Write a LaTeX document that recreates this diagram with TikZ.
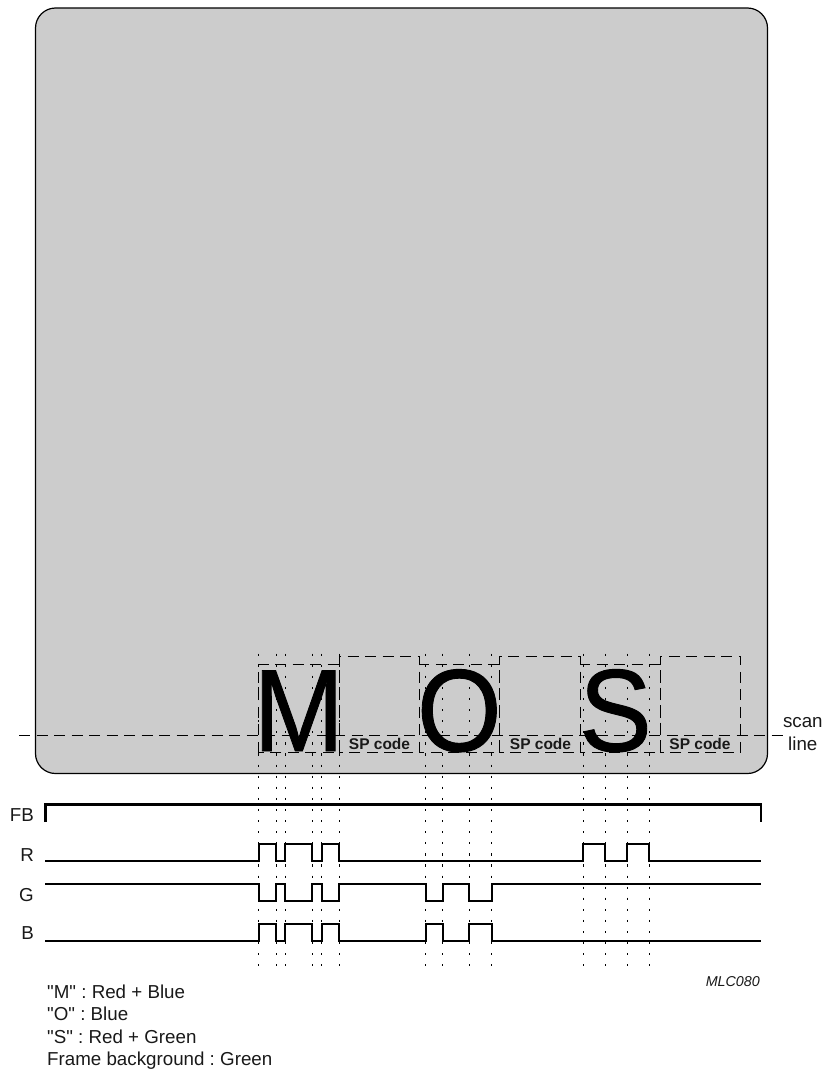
\documentclass[tikz,border=0pt]{standalone}
\usepackage{fontspec}
\setmainfont{Liberation Sans}
\newfontfamily\plainf{Liberation Sans}
\newfontfamily\heavyf[FakeBold=0.8]{Liberation Sans}
\frenchspacing
\tikzset{
  panel/.style={draw=black,line width=1.2pt,fill=black!20,rounded corners=20pt},
  dashbox/.style={draw=black,line width=0.8pt,dash pattern=on 11pt off 6.5pt},
  scanline/.style={draw=black,line width=0.8pt,dash pattern=on 11pt off 6.5pt},
  dotline/.style={draw=black,line width=0.8pt,dash pattern=on 2.2pt off 8.9pt},
  signal/.style={draw=black,line width=2.2pt,line join=miter},
  lbl/.style={inner sep=0pt,font=\fontsize{18.75}{18.75}\selectfont\plainf,text=black!90},
  bigletter/.style={inner sep=0pt,anchor=base,xscale=0.93,transform shape,font=\fontsize{117}{117}\selectfont\heavyf},
  spcode/.style={inner sep=0pt,anchor=base,font=\fontsize{15.5}{15.5}\selectfont\bfseries,text=black!90}
}
\begin{document}
\begin{tikzpicture}[x=1pt,y=-1pt]
\useasboundingbox (0,0) rectangle (824,1074);
\path[panel] (35.5,8) rectangle (767.5,773.5);
% characters
\node[bigletter] (m) at (298.7,751) {M};
\node[bigletter] (o) at (459.3,751) {O};
\node[bigletter] (s) at (615.5,751) {S};
% boxes
\foreach \a/\b in {258.7/339,419.3/499.5,580/660.3}
  \path[dashbox] (\a,752.5) -- (\a,664) -- (\b,664) -- (\b,752.5) -- cycle;
\foreach \a/\b in {339/419.3,499.5/580,660.3/740.5}
  \path[dashbox] (\a,752.5) -- (\a,656) -- (\b,656) -- (\b,752.5) -- cycle;
\node[spcode] (sp1) at (379.5,749.5) {SP code};
\node[spcode] (sp2) at (540.5,749.5) {SP code};
\node[spcode] (sp3) at (700,749.5) {SP code};
% scan line
\coordinate (sl) at (19,735);
\coordinate (sr) at (783,735);
\path[scanline] (sl) -- (sr);
\node[lbl,anchor=base] (scan) at (802.8,727) {scan};
\node[lbl,anchor=base] (line) at (802.8,750) {line};
% dotted guides
\foreach \x in {258.7,276,285.3,312,321.7,339,425.7,442.7,469.3,491.7,583,605,627,649}
  \path[dotline] (\x,653.5) -- (\x,966);
% signals
\path[signal] (45.5,822) -- (45.5,804.5) -- (761,804.5) -- (761,822);
\path[signal] (45,861) -- (258.7,861) -- (258.7,844) -- (276,844) -- (276,861) -- (285.3,861) -- (285.3,844) -- (312,844) -- (312,861) -- (321.7,861) -- (321.7,844) -- (339,844) -- (339,861) -- (583,861) -- (583,844) -- (605,844) -- (605,861) -- (627,861) -- (627,844) -- (649,844) -- (649,861) -- (761,861);
\path[signal] (45,884) -- (258.7,884) -- (258.7,901) -- (276,901) -- (276,884) -- (285.3,884) -- (285.3,901) -- (312,901) -- (312,884) -- (321.7,884) -- (321.7,901) -- (339,901) -- (339,884) -- (425.7,884) -- (425.7,901) -- (442.7,901) -- (442.7,884) -- (469.3,884) -- (469.3,901) -- (491.7,901) -- (491.7,884) -- (761,884);
\path[signal] (45,941) -- (258.7,941) -- (258.7,924) -- (276,924) -- (276,941) -- (285.3,941) -- (285.3,924) -- (312,924) -- (312,941) -- (321.7,941) -- (321.7,924) -- (339,924) -- (339,941) -- (425.7,941) -- (425.7,924) -- (442.7,924) -- (442.7,941) -- (469.3,941) -- (469.3,924) -- (491.7,924) -- (491.7,941) -- (761,941);
% labels
\node[lbl,anchor=base east] (fb) at (34,821.7) {FB};
\node[lbl,anchor=base east] (r) at (34,861) {R};
\node[lbl,anchor=base east] (g) at (34,901) {G};
\node[lbl,anchor=base east] (b) at (34,939.3) {B};
\node[inner sep=0pt,anchor=base east,font=\fontsize{14.3}{14.3}\selectfont\itshape,text=black!90] (id) at (760,986) {MLC080};
\node[lbl,anchor=base west] (t1) at (47,998) {"M" : Red + Blue};
\node[lbl,anchor=base west] (t2) at (47,1020.5) {"O" : Blue};
\node[lbl,anchor=base west] (t3) at (47,1043) {"S" : Red + Green};
\node[lbl,anchor=base west] (t4) at (47,1065.5) {Frame background : Green};
\end{tikzpicture}
\end{document}
